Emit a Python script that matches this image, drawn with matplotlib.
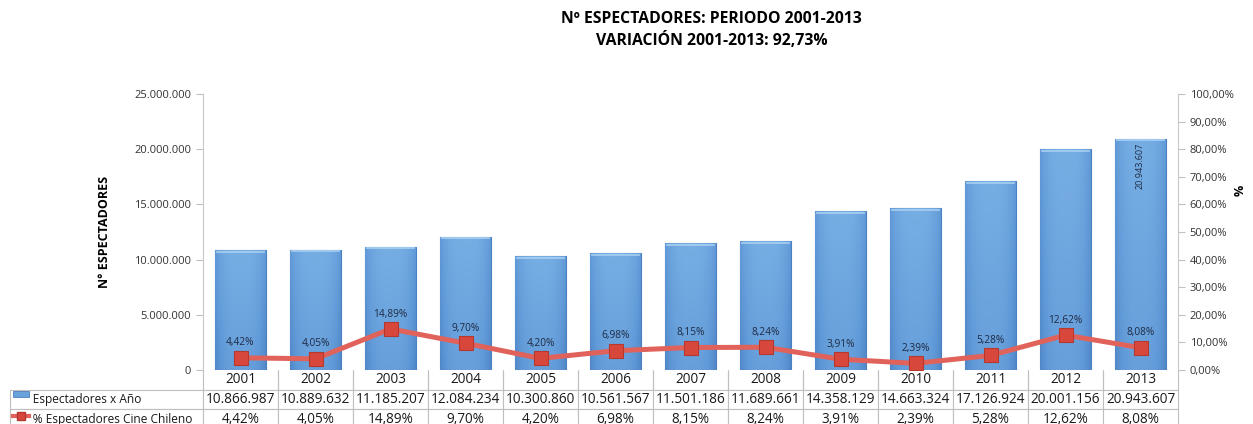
import numpy as np
import matplotlib
matplotlib.use('Agg')
import matplotlib.pyplot as plt
from matplotlib.ticker import FuncFormatter
from matplotlib.colors import LinearSegmentedColormap

plt.rcParams['font.family'] = ['Open Sans', 'DejaVu Sans']

# datos
years = ['2001', '2002', '2003', '2004', '2005', '2006', '2007',
         '2008', '2009', '2010', '2011', '2012', '2013']
espectadores = [10866987, 10889632, 11185207, 12084234, 10300860, 10561567,
                11501186, 11689661, 14358129, 14663324, 17126924, 20001156,
                20943607]
pct_chileno = [4.42, 4.05, 14.89, 9.70, 4.20, 6.98, 8.15, 8.24, 3.91, 2.39,
               5.28, 12.62, 8.08]
row_names = ['Espectadores x Año', '% Espectadores Cine Chileno']


def miles(v):
    return f'{int(round(v)):,}'.replace(',', '.')


def pct(v):
    return f'{v:.2f}%'.replace('.', ',')


fig = plt.figure(figsize=(12.53, 4.24), dpi=100)
ax = fig.add_axes([203/1253, 54/424, 975/1253, 276/424])
ax2 = ax.twinx()

x = np.arange(len(years))
bar_c = '#6aa2dc'
bars = ax.bar(x, espectadores, width=0.67, color=bar_c, edgecolor='#4a7fc0',
              linewidth=0.8, zorder=2)

# degradado tipo Excel dentro de cada barra
cmap = LinearSegmentedColormap.from_list('b', ['#3f72b8', '#5f98d6', '#7db5e8'])
hx = np.linspace(-1, 1, 60)
vy = np.linspace(0, 1, 100)[:, None]
grad = 0.75 - 0.35 * np.abs(hx)[None, :] ** 3 + 0.25 * (vy - 0.5)
grad = np.clip(grad, 0, 1)
for b in bars:
    bx, bw, bh = b.get_x(), b.get_width(), b.get_height()
    im = ax.imshow(grad, extent=[bx, bx + bw, 0, bh], origin='lower',
                   cmap=cmap, vmin=0, vmax=1, aspect='auto', zorder=2.1)
    im.set_clip_path(b)
    ax.plot([bx + 0.02, bx + bw - 0.02], [bh - 150000, bh - 150000],
            color='#a9cff2', lw=1.2, zorder=2.2)
ax.set_xlim(-0.5, len(years) - 0.5)
ax.set_ylim(0, 25000000)

ax.set_yticks(np.arange(0, 25000001, 5000000))
ax.yaxis.set_major_formatter(FuncFormatter(lambda v, p: miles(v)))
ax.set_xticks([])
ax.set_ylabel('N° ESPECTADORES', fontsize=9, fontweight='bold', labelpad=17)

# etiqueta del ultimo año
ax.text(x[-1], espectadores[-1] - 400000, miles(espectadores[-1]),
        rotation=90, ha='center', va='top', fontsize=6.5, color='#1f2a44',
        zorder=3)

line_c = '#e0625a'
ax2.plot(x, pct_chileno, color=line_c, lw=3.6, marker='s', markersize=10,
         markerfacecolor='#d8473c', markeredgecolor='#b5382f',
         markeredgewidth=0.8, zorder=3)
for xi, p in zip(x, pct_chileno):
    ax2.text(xi, p + 3.4, pct(p), ha='center', va='bottom', fontsize=7.3,
             color='#1f2a44')
ax2.set_ylim(0, 100)
ax2.set_yticks(np.arange(0, 101, 10))
ax2.yaxis.set_major_formatter(FuncFormatter(lambda v, p: pct(v)))
fig.text(1240 / 1253, 0.55, '%', rotation=90, ha='center', va='center',
         fontsize=9, fontweight='bold')

for a in (ax, ax2):
    for s in ('top', 'bottom'):
        a.spines[s].set_visible(False)
    a.spines['left'].set_color('#c8c8c8')
    a.spines['right'].set_color('#c8c8c8')
    a.tick_params(axis='y', colors='#c0c0c0', labelcolor='#333333',
                  labelsize=8, length=5, width=0.8)
ax2.spines['left'].set_visible(False)
ax.spines['right'].set_visible(False)

# tabla de datos
cells = [[''] + years,
         ['      ' + row_names[0]] + [miles(v) for v in espectadores],
         ['      ' + row_names[1]] + [pct(v) for v in pct_chileno]]
lab_w = 193 / 975
tab = ax.table(cellText=cells, cellLoc='center',
               colWidths=[lab_w] + [1 / 13] * 13,
               bbox=[-lab_w, -59 / 276, 1 + lab_w, 59 / 276])
tab.auto_set_font_size(False)
tab.set_fontsize(9.8)
for (r, c), cell in tab.get_celld().items():
    cell.set_edgecolor('#bfbfbf')
    cell.set_linewidth(0.8)
    cell.get_text().set_color('#1a1a1a')
    if c == 0:
        cell.get_text().set_ha('left')
        cell.get_text().set_fontsize(8.6)
        cell.PAD = 0.02
    if r == 0 and c == 0:
        cell.visible_edges = ''
    elif r == 0:
        cell.visible_edges = 'BLR'

# claves de leyenda en la tabla
ax.add_patch(plt.Rectangle((-lab_w + 3 / 975, -27 / 276), 16 / 975, 6 / 276,
                           transform=ax.transAxes, clip_on=False,
                           facecolor=bar_c, edgecolor='#4a7fc0', lw=0.6))
ax.plot([-lab_w + 3 / 975, -lab_w + 19 / 975], [-46 / 276, -46 / 276],
        transform=ax.transAxes, clip_on=False, color=line_c, lw=3)
ax.plot([-lab_w + 11 / 975], [-46 / 276], transform=ax.transAxes,
        clip_on=False, marker='s', markersize=6, color='#d8473c',
        markeredgecolor='#b5382f')

fig.text(0.568, 0.955, 'Nº ESPECTADORES: PERIODO 2001-2013', ha='center',
         va='center', fontsize=11.3, fontweight='bold')
fig.text(0.568, 0.905, 'VARIACIÓN 2001-2013: 92,73%', ha='center',
         va='center', fontsize=11.3, fontweight='bold')

fig.savefig('out.png', dpi=100)
